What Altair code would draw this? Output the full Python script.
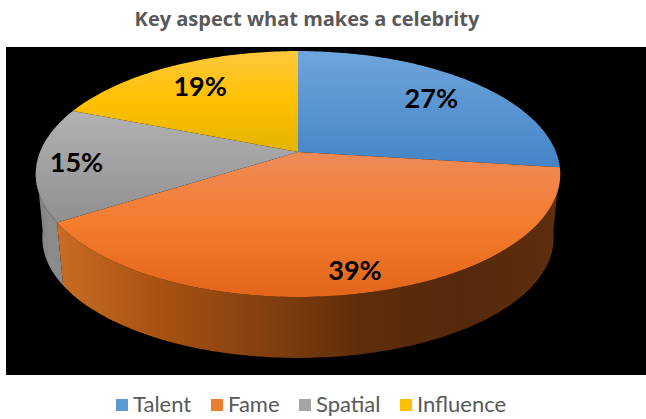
import math
import altair as alt
import pandas as pd

# Survey shares, clockwise from twelve o'clock
categories = ["Talent", "Fame", "Spatial", "Influence"]
shares = [27, 39, 15, 19]
swatches = ["#5b9bd5", "#ed7d31", "#a5a5a5", "#ffc000"]

# Top-face shading of each slice (light to dark, top to bottom)
top_shades = [
    ["#6ea5dc", "#4484c6"],
    ["#ee8a58", "#f47c2e", "#e2651a"],
    ["#b2b2b2", "#8f8f8f"],
    ["#ffc83e", "#ffc000", "#e3b400"],
]
# Radial position of each percentage label, as a fraction of the disc radius
label_radius = [0.75, 0.86, 0.85, 0.75]

# Tilted-disc projection, in plot-area units
CX, CY = 292, 105
RX, RY, TILT = 258, 119, 0.179
DEPTH, BASE_SCALE = 64.6, 0.975
# Angle at which the rim leaves the disc's left silhouette
LEFT_TANGENT = 263


def project(theta_deg, r=1.0, base=False):
    t = math.radians(theta_deg)
    u, v = r * math.sin(t), r * math.cos(t)
    w = 1 + TILT * v
    if base:
        return CX + BASE_SCALE * RX * u / w, CY + DEPTH - BASE_SCALE * RY * v / w
    return CX + RX * u / w, CY - RY * v / w


def arc_angles(a, b):
    n = max(2, int(abs(b - a)) + 1)
    return [a + (b - a) * i / (n - 1) for i in range(n)]


x_scale = alt.Scale(domain=[0, 640], nice=False, zero=False)
y_scale = alt.Scale(domain=[328, 0], nice=False, zero=False)


def polygon(points, gradient):
    frame = pd.DataFrame(points, columns=["px", "py"]).reset_index(names="step")
    return alt.Chart(frame).mark_line(fill=gradient, stroke=None, strokeWidth=0).encode(
        x=alt.X("px:Q", scale=x_scale, axis=None),
        y=alt.Y("py:Q", scale=y_scale, axis=None),
        order="step:Q",
    )


def shade(colors, horizontal=False):
    stops = [
        alt.GradientStop(offset=i / (len(colors) - 1), color=c)
        for i, c in enumerate(colors)
    ]
    if horizontal:
        return alt.Gradient(gradient="linear", x1=0, x2=1, y1=0, y2=0, stops=stops)
    return alt.Gradient(gradient="linear", x1=0, x2=0, y1=0, y2=1, stops=stops)


def wall(a, b):
    angles = arc_angles(a, b)
    return [project(t) for t in angles] + [project(t, base=True) for t in reversed(angles)]


# Slice boundaries in degrees
edges = [0]
for s in shares:
    edges.append(edges[-1] + s * 3.6)

layers = []

# Visible rim: the front of Fame and the lower part of Spatial
layers.append(polygon(wall(edges[2], LEFT_TANGENT), shade(["#7c7c7c", "#8c8c8c", "#8a8a8a"], True)))
layers.append(polygon(wall(edges[1], edges[2]), shade(["#c96c24", "#a85212", "#86410f", "#5f2d0b", "#55290b", "#5e2e0d"], True)))

# Top faces
for i in range(len(shares)):
    pts = [(CX, CY)] + [project(t) for t in arc_angles(edges[i], edges[i + 1])]
    layers.append(polygon(pts, shade(top_shades[i])))

# Percentage labels
label_rows = []
for i, s in enumerate(shares):
    px, py = project((edges[i] + edges[i + 1]) / 2, label_radius[i])
    label_rows.append({"px": px, "py": py, "label": f"{s}%"})
labels = alt.Chart(pd.DataFrame(label_rows)).mark_text(
    font="Lato", fontWeight="bold", fontSize=27, color="black", dy=2
).encode(
    x=alt.X("px:Q", scale=x_scale, axis=None),
    y=alt.Y("py:Q", scale=y_scale, axis=None),
    text="label:N",
)
layers.append(labels)

# Invisible points that carry the legend
legend_carrier = alt.Chart(pd.DataFrame({"category": categories})).mark_point(
    filled=True, size=0, opacity=0
).encode(
    color=alt.Color(
        "category:N",
        scale=alt.Scale(domain=categories, range=swatches),
        legend=alt.Legend(
            title=None,
            orient="none",
            direction="horizontal",
            legendX=105,
            legendY=347,
            symbolType="square",
            symbolSize=144,
            symbolOpacity=1,
            symbolStrokeWidth=0,
            labelFont="Lato",
            labelFontSize=22,
            labelColor="#595959",
            labelOffset=0,
            columnPadding=14,
        ),
    )
)
layers.append(legend_carrier)

chart = alt.layer(*layers).properties(
    width=640,
    height=328,
    padding={"left": 6, "top": 47, "right": 0, "bottom": 44},
    autosize=alt.AutoSizeParams(type="none"),
    view=alt.ViewBackground(fill="black", stroke=None),
    title=alt.TitleParams(
        "Key aspect what makes a celebrity",
        font="Open Sans",
        fontSize=20,
        fontWeight="bold",
        color="#595959",
        anchor="middle",
        dx=-19,
        offset=17,
    ),
)

chart.save("out.html", embed_options={"renderer": "svg", "actions": False})
